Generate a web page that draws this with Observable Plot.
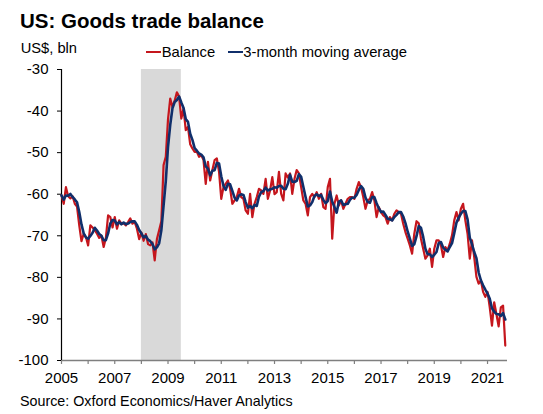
<!DOCTYPE html>
<html>
<head>
<meta charset="utf-8">
<script src="https://cdn.jsdelivr.net/npm/d3@7"></script>
<script src="https://cdn.jsdelivr.net/npm/@observablehq/plot@0.6"></script>
<style>
  html, body { margin: 0; padding: 0; background: #fff; }
  #wrap { position: relative; width: 543px; height: 414px; overflow: hidden; font-family: "Liberation Sans", Arial, sans-serif; color: #000; }
  #wrap .t { position: absolute; white-space: nowrap; }
  #chart { position: absolute; left: 0; top: 0; }
  .sw { position: absolute; height: 2.5px; }
</style>
</head>
<body>
<div id="wrap">
  <div id="chart"></div>
  <div class="t" id="title" style="left:20px; top:10.8px; font-size:20.5px; line-height:20.5px; font-weight:bold;"></div>
  <div class="t" id="unit" style="left:20.7px; top:40.9px; font-size:14.7px; line-height:14.7px;"></div>
  <div class="sw" id="sw0" style="left:145.7px; top:50.5px; width:15.5px;"></div>
  <div class="t" id="lg0" style="left:161.7px; top:44.8px; font-size:14.8px; line-height:14.8px;"></div>
  <div class="sw" id="sw1" style="left:227.7px; top:50.5px; width:15px;"></div>
  <div class="t" id="lg1" style="left:243.3px; top:44.8px; font-size:14.8px; line-height:14.8px;"></div>
  <div class="t" id="source" style="left:20px; top:394.4px; font-size:14.3px; line-height:14.3px;"></div>
</div>
<script>
// ---- data ----
const titleText = "US: Goods trade balance";
const unitText = "US$, bln";
const sourceText = "Source: Oxford Economics/Haver Analytics";
const seriesNames = ["Balance", "3-month moving average"];
const startYear = 2005; // first month: Jan 2005, monthly
const balance = [
  // 2005
  -60.3, -62.3, -58.3, -60.5, -61.0, -60.5, -62.3, -63.0, -67.5, -71.3, -69.5, -70.3,
  // 2006
  -72.3, -67.5, -68.0, -68.7, -69.5, -70.5, -70.0, -72.7, -70.5, -65.1, -65.5, -68.0,
  // 2007
  -65.5, -68.3, -66.3, -67.1, -67.0, -67.5, -66.7, -65.8, -67.1, -66.7, -68.3, -70.8,
  // 2008
  -69.2, -71.2, -69.6, -72.0, -72.3, -71.6, -75.9, -70.8, -68.7, -66.5, -53.0, -51.0,
  // 2009
  -42.0, -37.0, -39.0, -37.5, -35.5, -36.5, -41.8, -39.4, -44.6, -43.8, -48.0, -49.0,
  // 2010
  -49.8, -49.8, -51.0, -50.6, -51.8, -57.5, -52.2, -56.7, -54.2, -51.8, -51.4, -54.6,
  // 2011
  -61.1, -58.3, -57.5, -56.7, -58.7, -62.3, -61.5, -60.7, -58.7, -60.7, -61.1, -63.9,
  // 2012
  -64.7, -59.9, -65.5, -62.3, -60.7, -58.7, -59.1, -59.9, -56.3, -61.1, -59.1, -55.9,
  // 2013
  -60.0, -59.5, -54.6, -59.9, -61.5, -55.0, -56.0, -55.0, -59.9, -56.3, -54.2, -55.0,
  // 2014
  -58.3, -61.5, -62.3, -65.1, -60.7, -59.9, -60.7, -59.5, -61.1, -59.9, -63.1, -63.5,
  // 2015
  -58.3, -56.3, -70.7, -62.3, -60.3, -62.7, -61.5, -63.5, -62.3, -61.1, -60.7, -60.7,
  // 2016
  -61.1, -58.7, -57.1, -58.3, -60.7, -63.5, -61.5, -61.1, -59.5, -61.5, -65.5, -63.1,
  // 2017
  -64.3, -65.1, -65.5, -67.1, -65.5, -66.3, -64.7, -63.9, -64.3, -64.7, -67.1, -69.1,
  // 2018
  -70.7, -72.3, -74.3, -69.5, -66.5, -67.0, -70.7, -73.1, -75.5, -74.7, -73.1, -77.5,
  // 2019
  -73.1, -71.1, -71.1, -72.3, -75.1, -72.7, -73.5, -71.9, -69.9, -66.3, -64.3, -66.3,
  // 2020
  -63.5, -62.3, -66.3, -69.5, -75.5, -71.1, -75.1, -79.9, -81.5, -80.7, -83.5, -84.7,
  // 2021 (Jan-Sep)
  -83.5, -87.2, -91.6, -86.0, -88.8, -91.8, -87.2, -86.8, -96.4
];
const recessions = [{start: 2008, end: 2009.5}];
const xDomain = [2005, 2021.75];
const yDomain = [-100, -30];
const xTicks = [2005, 2006, 2007, 2008, 2009, 2010, 2011, 2012, 2013, 2014, 2015, 2016, 2017, 2018, 2019, 2020, 2021];
const xTickLabels = [2005, 2007, 2009, 2011, 2013, 2015, 2017, 2019, 2021];
const yTicks = [-100, -90, -80, -70, -60, -50, -40, -30];

// ---- styles ----
const RED = "#c5161d";
const NAVY = "#102f6b";
const BAND = "#d9d9d9";
const AXISGRAY = "#7f7f7f";

const rows = balance.map((v, i) => ({date: startYear + i / 12, value: v}));

const chart = Plot.plot({
  width: 543,
  height: 414,
  marginLeft: 61,
  marginRight: 36,
  marginTop: 69,
  marginBottom: 54,
  style: {fontFamily: "'Liberation Sans', Arial, sans-serif", fontSize: "15px", color: "#000", background: "transparent", overflow: "visible"},
  x: {domain: xDomain},
  y: {domain: yDomain},
  marks: [
    Plot.rect(recessions, {x1: "start", x2: "end", y1: yDomain[0], y2: yDomain[1], fill: BAND}),
    Plot.axisX({ticks: xTicks, tickFormat: d => xTickLabels.includes(d) ? String(d) : "", tickSize: 4, tickPadding: 8, stroke: AXISGRAY, strokeWidth: 1.2, label: null, fontSize: 15, fill: "#000"}),
    Plot.axisY({ticks: yTicks, tickFormat: d => String(d), tickSize: 4, tickPadding: 9, label: null, fontSize: 15, stroke: "#000", fill: "#000"}),
    Plot.ruleY([yDomain[0]], {stroke: AXISGRAY, strokeWidth: 1.5}),
    Plot.ruleX([xDomain[0]], {stroke: "#000", strokeWidth: 1.2}),
    Plot.lineY(rows, {x: "date", y: "value", stroke: RED, strokeWidth: 2.2}),
    Plot.lineY(rows, Plot.windowY({k: 3, anchor: "end"}, {x: "date", y: "value", stroke: NAVY, strokeWidth: 2.6}))
  ]
});
document.getElementById("chart").appendChild(chart);

document.getElementById("title").textContent = titleText;
document.getElementById("unit").textContent = unitText;
document.getElementById("lg0").textContent = seriesNames[0];
document.getElementById("lg1").textContent = seriesNames[1];
document.getElementById("sw0").style.background = RED;
document.getElementById("sw1").style.background = NAVY;
document.getElementById("source").textContent = sourceText;
</script>
</body>
</html>
